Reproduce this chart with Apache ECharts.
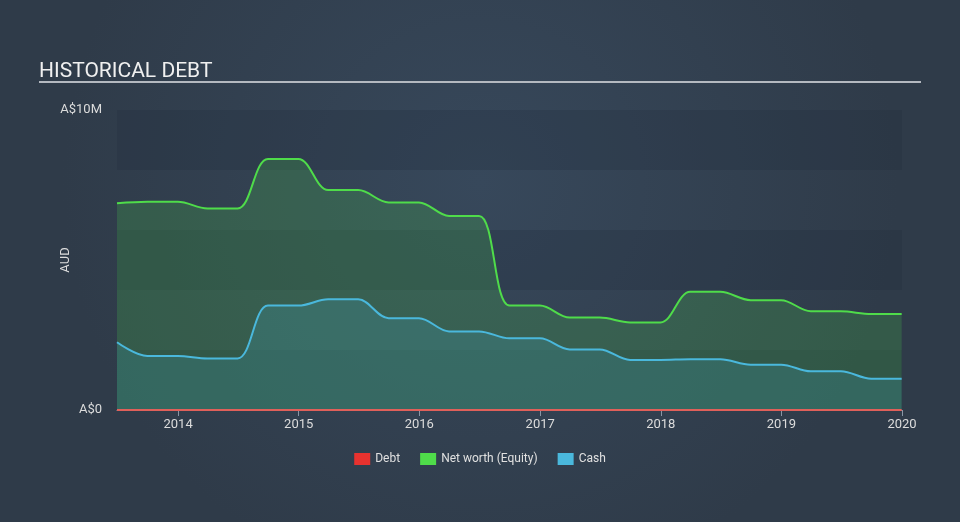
<!DOCTYPE html>
<html>
<head>
<meta charset="utf-8">
<script src="https://cdn.jsdelivr.net/npm/echarts@6/dist/echarts.min.js"></script>
<style>
html,body{margin:0;padding:0;background:#333f4e;}
#c{width:960px;height:522px;}
</style>
</head>
<body>
<div id="c"></div>
<script>
var dates = ['2013-06-30','2013-09-30','2013-12-31','2014-03-31','2014-06-30','2014-09-30','2014-12-31',
  '2015-03-31','2015-06-30','2015-09-30','2015-12-31','2016-03-31','2016-06-30','2016-09-30','2016-12-31',
  '2017-03-31','2017-06-30','2017-09-30','2017-12-31','2018-03-31','2018-06-30','2018-09-30','2018-12-31',
  '2019-03-31','2019-06-30','2019-09-30','2019-12-31'];
var equity = [6.89,6.94,6.94,6.72,6.72,8.37,8.37,7.33,7.33,6.92,6.92,6.47,6.47,3.48,3.48,
  3.08,3.08,2.92,2.92,3.94,3.94,3.66,3.66,3.29,3.29,3.2,3.2];
var cash = [2.26,1.8,1.8,1.72,1.72,3.48,3.48,3.69,3.69,3.06,3.06,2.62,2.62,2.39,2.39,
  2.02,2.02,1.67,1.67,1.69,1.69,1.51,1.51,1.29,1.29,1.04,1.04];
var debt = [0,0,0,0,0,0,0,0,0,0,0,0,0,0,0,0,0,0,0,0,0,0,0,0,0,0,0];

function pairs(arr){ return dates.map(function(d,i){ return [d, arr[i]]; }); }

var chart = echarts.init(document.getElementById('c'));
var YEAR = 365.25*24*3600*1000;
chart.setOption({
  backgroundColor: {type:'radial', x:0.5, y:0.35, r:0.8,
    colorStops:[{offset:0,color:'#37485b'},{offset:1,color:'#2f3b49'}]},
  animation:false,
  title:{text:'HISTORICAL DEBT', left:34, top:56,
    textStyle:{color:'#f0f0f0', fontSize:21, fontWeight:'normal', fontFamily:'Roboto'}},
  graphic:[{type:'line', shape:{x1:39,y1:82,x2:921,y2:82}, style:{stroke:'#b4b9c0', lineWidth:2}}],
  legend:{bottom:52, left:'center', itemWidth:16, itemHeight:12, itemGap:20, icon:'rect',
    textStyle:{color:'#e0e0e0', fontSize:12, fontFamily:'Roboto'},
    data:['Debt','Net worth (Equity)','Cash']},
  grid:{left:117, right:58, top:110, bottom:112},
  xAxis:{type:'time', min:'2013-06-30', max:'2020-01-01',
    minInterval:YEAR*0.99, maxInterval:YEAR*1.01,
    axisLine:{show:true, lineStyle:{color:'#8a96a6'}},
    axisTick:{show:true, length:6, lineStyle:{color:'#8a96a6'}},
    splitLine:{show:false},
    axisLabel:{color:'#dcdcdc', fontSize:13, fontFamily:'Roboto', margin:8, showMaxLabel:true,
      formatter:function(v){ return String(new Date(v).getFullYear()); }}},
  yAxis:{type:'value', min:0, max:10, interval:2,
    name:'AUD', nameLocation:'middle', nameGap:45, nameRotate:90, nameMoveOverlap:false,
    nameTextStyle:{color:'#dcdcdc', fontSize:13, fontFamily:'Roboto'},
    axisLine:{show:false}, axisTick:{show:false}, splitLine:{show:false},
    splitArea:{show:true, areaStyle:{color:['rgba(30,42,58,0.25)','rgba(0,0,0,0)']}},
    axisLabel:{color:'#dcdcdc', fontSize:13, fontFamily:'Roboto', margin:15,
      formatter:function(v){ return v===0?'A$0':(v===10?'A$10M':''); }}},
  series:[
    {name:'Net worth (Equity)', type:'line', data:pairs(equity), smooth:0.35, symbol:'none',
      lineStyle:{color:'#4fdc4a', width:2}, itemStyle:{color:'#4fdc4a'},
      areaStyle:{color:'rgba(79,220,74,0.28)'}, z:2},
    {name:'Cash', type:'line', data:pairs(cash), smooth:0.35, symbol:'none',
      lineStyle:{color:'#4ab8dc', width:2}, itemStyle:{color:'#4ab8dc'},
      areaStyle:{color:'rgba(74,184,220,0.24)'}, z:3},
    {name:'Debt', type:'line', data:pairs(debt), smooth:0.35, symbol:'none',
      lineStyle:{color:'#e0605a', width:2}, itemStyle:{color:'#e8322f'}, z:4}
  ]
});
</script>
</body>
</html>
